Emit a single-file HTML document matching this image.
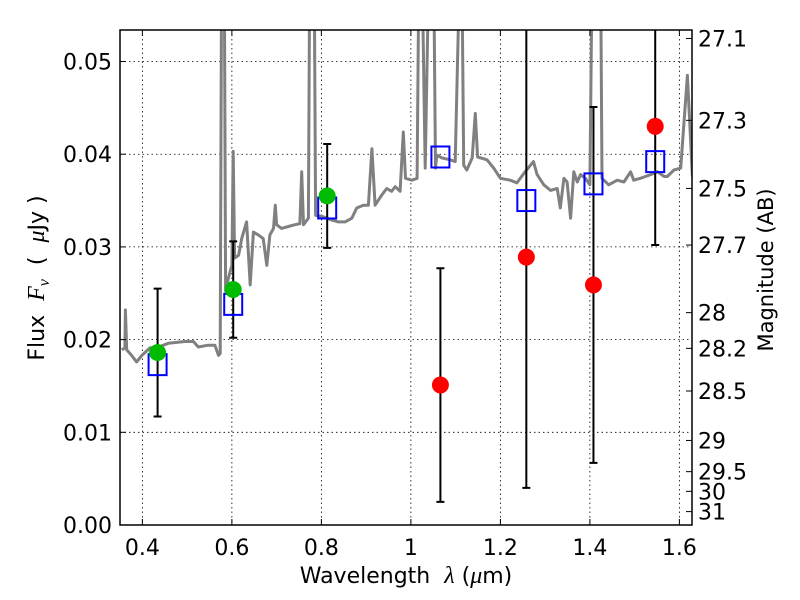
<!DOCTYPE html>
<html><head><meta charset="utf-8"><style>
html,body{margin:0;padding:0;background:#fff;}
svg{display:block;font-family:"DejaVu Sans","Liberation Sans",sans-serif;}
</style></head><body>
<svg id="chart" width="800" height="600" viewBox="0 0 800 600" xmlns="http://www.w3.org/2000/svg">
<rect x="0" y="0" width="800" height="600" fill="#fff"/>
<defs><clipPath id="plotclip"><rect x="120" y="30" width="572" height="495"/></clipPath></defs>
<g id="grid"></g>
<g id="spec" clip-path="url(#plotclip)"></g>
<g id="marks" clip-path="url(#plotclip)"></g>
<rect x="120" y="30" width="572" height="495" fill="none" stroke="#000" stroke-width="1.5"/>
<g id="axes"></g>
<text x="406" y="583" font-size="22" text-anchor="middle" xml:space="preserve">Wavelength  <tspan font-style="italic" font-family="Liberation Serif, serif" font-size="24">λ</tspan> (<tspan font-style="italic" font-family="Liberation Serif, serif" font-size="24">μ</tspan>m)</text>
<text transform="translate(44,278) rotate(-90)" font-size="22" text-anchor="middle" xml:space="preserve">Flux  <tspan font-style="italic" font-family="Liberation Serif, serif" font-size="24">F</tspan><tspan font-style="italic" font-family="Liberation Serif, serif" font-size="16" dy="5">ν</tspan><tspan dy="-5">  (  </tspan><tspan font-style="italic" font-family="Liberation Serif, serif" font-size="24">μ</tspan>Jy )</text>
<text transform="translate(773,270) rotate(-90)" font-size="21" text-anchor="middle">Magnitude (AB)</text>
</svg>
<script>
const specLam=[0.354,0.361,0.362,0.365,0.376,0.387,0.399,0.417,0.436,0.458,0.495,0.514,0.525,0.547,0.562,0.570,0.574,0.577,0.583,0.586,0.592,0.600,0.603,0.606,0.615,0.622,0.633,0.641,0.648,0.659,0.670,0.678,0.685,0.693,0.697,0.700,0.711,0.726,0.741,0.752,0.756,0.760,0.771,0.774,0.784,0.787,0.801,0.823,0.838,0.853,0.868,0.879,0.894,0.905,0.913,0.920,0.935,0.946,0.957,0.965,0.976,0.983,0.988,1.002,1.014,1.018,1.025,1.032,1.040,1.051,1.055,1.058,1.069,1.088,1.099,1.109,1.114,1.118,1.125,1.137,1.144,1.149,1.170,1.185,1.200,1.222,1.237,1.252,1.267,1.274,1.282,1.297,1.312,1.327,1.334,1.342,1.349,1.357,1.364,1.372,1.379,1.390,1.400,1.405,1.424,1.427,1.442,1.461,1.476,1.491,1.498,1.513,1.536,1.551,1.566,1.573,1.588,1.603,1.618,1.629];
const specFlux=[0.0189,0.0191,0.0232,0.0189,0.0183,0.0176,0.0183,0.0191,0.0192,0.0196,0.0198,0.0198,0.0192,0.0194,0.0194,0.0183,0.0185,0.06,0.06,0.0252,0.0266,0.0280,0.0403,0.0288,0.0291,0.0309,0.0327,0.0259,0.0316,0.0313,0.0309,0.0280,0.0313,0.0320,0.0345,0.0324,0.0320,0.0322,0.0324,0.0325,0.0381,0.0324,0.0331,0.06,0.06,0.0334,0.0333,0.0329,0.0327,0.0327,0.0331,0.0342,0.0345,0.0345,0.0406,0.0345,0.0356,0.0363,0.0360,0.0365,0.0360,0.0424,0.0374,0.0372,0.0374,0.06,0.06,0.0385,0.06,0.06,0.0385,0.0399,0.0396,0.0394,0.0392,0.06,0.06,0.0388,0.0383,0.0396,0.0444,0.0397,0.0394,0.0385,0.0374,0.0372,0.0369,0.0379,0.0388,0.0392,0.0378,0.0367,0.0361,0.0363,0.0342,0.0374,0.0370,0.0331,0.0381,0.0370,0.0378,0.0374,0.0367,0.06,0.06,0.0374,0.0367,0.0372,0.0370,0.0381,0.0372,0.0374,0.0378,0.0381,0.0376,0.0376,0.0383,0.0385,0.0485,0.0376];
const bandLam=[0.434,0.603,0.813,1.066,1.258,1.408,1.546];
const obsFlux=[0.0186,0.0254,0.0355,0.0151,0.0289,0.0259,0.0430];
const obsErr=[0.0069,0.0052,0.0056,0.0126,0.0249,0.0192,0.0128];
const obsDetected=[true,true,true,false,false,false,false];
const modelFlux=[0.0173,0.0238,0.0342,0.0397,0.0350,0.0368,0.0392];
const xTicks=[0.4,0.6,0.8,1.0,1.2,1.4,1.6];
const xTickLabels=["0.4","0.6","0.8","1","1.2","1.4","1.6"];
const yTicks=[0,0.01,0.02,0.03,0.04,0.05];
const yTickLabels=["0.00","0.01","0.02","0.03","0.04","0.05"];
const magTicks=[27.1,27.3,27.5,27.7,28,28.2,28.5,29,29.5,30,31];
const magTickLabels=["27.1","27.3","27.5","27.7","28","28.2","28.5","29","29.5","30","31"];

const X0=120,X1=692,Y0=525,Y1=30,LMIN=0.35,LMAX=1.6282,FMIN=0,FMAX=0.0534;
function xs(v){return X0+(v-LMIN)/(LMAX-LMIN)*(X1-X0);}
function ys(v){return Y0-(v-FMIN)/(FMAX-FMIN)*(Y0-Y1);}
function magToFlux(m){return 3631e6*Math.pow(10,-0.4*m);}
const NS="http://www.w3.org/2000/svg";
function mk(tag,attrs,parent){const e=document.createElementNS(NS,tag);for(const k in attrs)e.setAttribute(k,attrs[k]);parent.appendChild(e);return e;}
const grid=document.getElementById('grid'),axes=document.getElementById('axes'),spec=document.getElementById('spec'),marks=document.getElementById('marks');

xTicks.forEach((t,i)=>{const x=xs(t);
 const g=mk('line',{x1:x,x2:x,y1:Y1,y2:Y0,stroke:'#000','stroke-width':0.8,'stroke-dasharray':'1.5,3'},grid);
 
 
 mk('line',{x1:x,x2:x,y1:Y0,y2:Y0-6,stroke:'#000','stroke-width':1},axes);
 mk('line',{x1:x,x2:x,y1:Y1,y2:Y1+6,stroke:'#000','stroke-width':1},axes);
 const tx=mk('text',{x:x,y:555,'font-size':22,'text-anchor':'middle'},axes);tx.textContent=xTickLabels[i];
 
 
});
yTicks.forEach((t,i)=>{const y=ys(t);
 const g=mk('line',{x1:X0,x2:X1,y1:y,y2:y,stroke:'#000','stroke-width':0.8,'stroke-dasharray':'1.5,3'},grid);
 
 
 mk('line',{x1:X0,x2:X0+6,y1:y,y2:y,stroke:'#000','stroke-width':1},axes);
 const tx=mk('text',{x:112,y:y+8,'font-size':22,'text-anchor':'end'},axes);tx.textContent=yTickLabels[i];
 
 
});
magTicks.forEach((m,i)=>{const y=ys(magToFlux(m));
 mk('line',{x1:X1,x2:X1-6,y1:y,y2:y,stroke:'#000','stroke-width':1},axes);
 const tx=mk('text',{x:698,y:y+8,'font-size':22,'text-anchor':'start'},axes);tx.textContent=magTickLabels[i];
 
 
});
let d='';specLam.forEach((l,i)=>{d+=(i?'L':'M')+xs(l).toFixed(1)+','+ys(specFlux[i]).toFixed(1);});
const sp=mk('path',{d:d,fill:'none',stroke:'#808080','stroke-width':3,'stroke-linejoin':'round'},spec);



bandLam.forEach((l,i)=>{const x=xs(l);
 const yt=ys(obsFlux[i]+obsErr[i]),yb=ys(obsFlux[i]-obsErr[i]);
 const eb=mk('path',{d:`M${x},${yt}L${x},${yb}M${x-4},${yt}L${x+4},${yt}M${x-4},${yb}L${x+4},${yb}`,stroke:'#000','stroke-width':2,fill:'none'},marks);
 
 
 const sq=mk('rect',{x:x-9,y:ys(modelFlux[i])-10.5,width:18,height:21,fill:'none',stroke:'#0000ff','stroke-width':2},marks);
 
 
 const c=mk('circle',{cx:x,cy:ys(obsFlux[i]),r:8.5,fill:obsDetected[i]?'#00bb00':'#ff0000'},marks);
 
 
});
</script>
</body></html>
